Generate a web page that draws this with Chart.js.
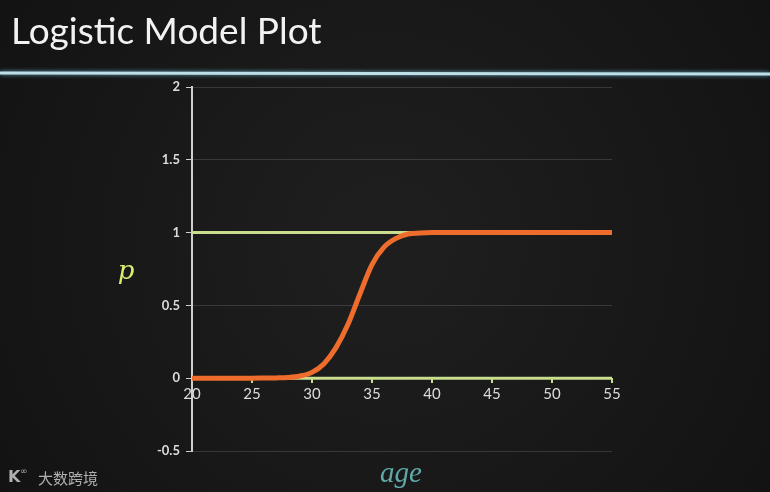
<!DOCTYPE html>
<html><head><meta charset="utf-8">
<script src="https://cdn.jsdelivr.net/npm/chart.js@4/dist/chart.umd.min.js"></script>
<style>html,body{margin:0;padding:0;background:#1a1a1a;}#wrap{width:770px;height:492px;}</style>
</head><body><div id="wrap"><canvas id="c" width="770" height="492"></canvas></div>
<script>
const ages = [20,21,22,23,24,25,26,27,28,29,30,31,32,33,34,35,36,37,38,39,40,41,42,43,44,45,46,47,48,49,50,51,52,53,54,55];
const probs = [0,0,0,0,0,0,0.001,0.002,0.005,0.015,0.04,0.10,0.21,0.37,0.58,0.78,0.90,0.96,0.99,0.997,1,1,1,1,1,1,1,1,1,1,1,1,1,1,1,1];
const upperRef = [1,1];
const lowerRef = [0,0];
const refAges = [20,55];
const yTicks = [-0.5,0,0.5,1,1.5,2];
const xTicks = [20,25,30,35,40,45,50,55];
const titleText = "Logistic Model Plot";
const yLabel = "p";
const xLabel = "age";
const watermark = "大数跨境";

const bgPlugin = {
  id:'bg',
  beforeDraw(chart){
    const {ctx,width,height} = chart;
    ctx.save();
    const g = ctx.createRadialGradient(width/2,height/2,50,width/2,height/2,520);
    g.addColorStop(0,'#1e1e1e'); g.addColorStop(1,'#111111');
    ctx.fillStyle = g; ctx.fillRect(0,0,width,height);
    // title
    ctx.fillStyle = '#f2f2f2';
    ctx.font = '37px Lato';
    ctx.textBaseline = 'alphabetic';
    ctx.fillText(titleText, 11, 44);
    // divider line
    ctx.shadowColor = 'rgba(120,200,230,0.8)'; ctx.shadowBlur = 4;
    ctx.strokeStyle = '#bcdfe8'; ctx.lineWidth = 3;
    ctx.beginPath(); ctx.moveTo(0,73); ctx.lineTo(770,74); ctx.stroke();
    ctx.restore();
  },
  afterDraw(chart){
    const {ctx} = chart;
    ctx.save();
    ctx.fillStyle = '#d8ee70';
    ctx.font = 'italic 26px "DejaVu Serif"';
    ctx.textAlign='center'; ctx.textBaseline='middle';
    ctx.fillText(yLabel, 126, 272);
    ctx.fillStyle = '#5fa8a8';
    ctx.font = 'italic 29px "Liberation Serif"';
    ctx.fillText(xLabel, 401, 474);
    ctx.fillStyle = '#b0b0b0';
    ctx.font = '15px "Noto Sans CJK SC"';
    ctx.textAlign='left';
    ctx.fillText(watermark, 38, 478);
    ctx.font = 'bold 16px "DejaVu Sans"';
    ctx.fillText('K', 8, 478);
    ctx.font = '9px "DejaVu Sans"';
    ctx.fillText('∞', 20, 472);
    ctx.restore();
  }
};

new Chart(document.getElementById('c'), {
  type:'line',
  data:{
    datasets:[
      {data: refAges.map((a,i)=>({x:a,y:upperRef[i]})), borderColor:'#c9dd8e', borderWidth:3, pointRadius:0, order:2},
      {data: refAges.map((a,i)=>({x:a,y:lowerRef[i]})), borderColor:'#c9dd8e', borderWidth:3, pointRadius:0, order:2},
      {data: ages.map((a,i)=>({x:a,y:probs[i]})), borderColor:'#ef6d2c', borderWidth:5, pointRadius:0, cubicInterpolationMode:'monotone', order:1}
    ]
  },
  plugins:[bgPlugin],
  options:{
    responsive:false, animation:false,
    layout:{padding:{left:0,right:158,top:87,bottom:41}},
    plugins:{legend:{display:false},tooltip:{enabled:false},title:{display:false}},
    scales:{
      x:{type:'linear', min:20, max:55, position:{y:0},
        afterBuildTicks(s){ s.ticks = xTicks.map(v=>({value:v})); },
        grid:{drawOnChartArea:false, drawTicks:true, tickLength:5, color:'#c9dd8e', lineWidth:2},
        border:{display:false},
        ticks:{color:'#dcdcdc', font:{family:'Lato', size:15}, padding:2, maxRotation:0, callback:v=>String(v)}
      },
      y:{min:-0.5, max:2,
        afterBuildTicks(s){ s.ticks = yTicks.map(v=>({value:v})); },
        afterFit(s){ s.width = 192; },
        grid:{color:'rgba(200,200,200,0.18)', lineWidth:1, tickLength:6, tickColor:'#cfcfcf'},
        border:{display:true, color:'#cfcfcf', width:2},
        ticks:{color:'#dcdcdc', font:{family:'Lato', size:13, weight:'bold'}, padding:6, callback:v=>String(v)}
      }
    }
  }
});
</script></body></html>
